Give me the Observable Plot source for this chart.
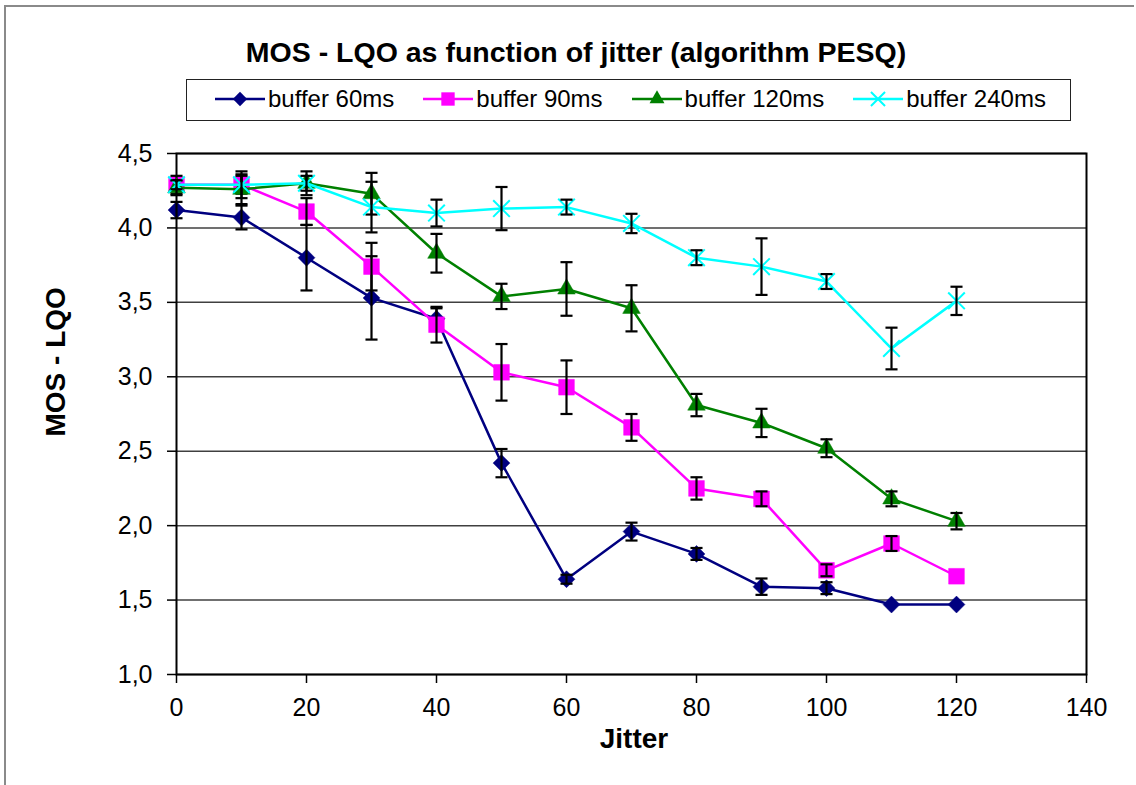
<!DOCTYPE html>
<html>
<head>
<meta charset="utf-8">
<script src="https://cdn.jsdelivr.net/npm/d3@7"></script>
<script src="https://cdn.jsdelivr.net/npm/@observablehq/plot@0.6"></script>
<style>
  html, body { margin: 0; padding: 0; background: #fff; }
  #page { position: relative; width: 1136px; height: 785px; overflow: hidden;
          font-family: "Liberation Sans", Arial, sans-serif; color: #000; }
  #border { position: absolute; left: 4px; top: 5px; width: 1128px; height: 820px;
            border-left: 2px solid #8a8a8a; border-top: 2px solid #8a8a8a; }
  #title { position: absolute; left: 0; top: 38px; width: 1152px; text-align: center;
           font-weight: bold; font-size: 28.5px; line-height: 28px; white-space: nowrap; }
  #legend { position: absolute; left: 186px; top: 79px; width: 885px; height: 42px;
            box-sizing: border-box; border: 1.5px solid #222; background: #fff;
            display: flex; align-items: center; gap: 29px; padding: 0 0 2px 28px; }
  .item { display: flex; align-items: center; font-size: 24px; line-height: 24px; white-space: nowrap; }
  .item svg { margin-right: 3px; display: block; }
  #chart { position: absolute; left: 0; top: 130px; }
</style>
</head>
<body>
<div id="page">
  <div id="border"></div>
  <div id="title">MOS - LQO as function of jitter (algorithm PESQ)</div>
  <div id="legend"></div>
  <div id="chart"></div>
</div>
<script>
// Jitter values on the x axis
const jitter = [0, 10, 20, 30, 40, 50, 60, 70, 80, 90, 100, 110, 120];

// Series definitions
const seriesNames = ["buffer 60ms", "buffer 90ms", "buffer 120ms", "buffer 240ms"];
const seriesColors = ["#000080", "#ff00ff", "#008000", "#00ffff"];
const seriesSymbols = ["diamond2", "square2", "triangle2", "times"];

// Mean MOS-LQO per jitter value and the half-width of each error bar
const mos60  = [4.12, 4.07, 3.80, 3.53, 3.39, 2.42, 1.64, 1.96, 1.81, 1.59, 1.58, 1.47, 1.47];
const err60  = [0.055, 0.08, 0.22, 0.28, 0.07, 0.095, 0.03, 0.06, 0.04, 0.055, 0.04, 0, 0];
const mos90  = [4.29, 4.29, 4.11, 3.74, 3.35, 3.03, 2.93, 2.66, 2.25, 2.18, 1.70, 1.88, 1.66];
const err90  = [0.06, 0.06, 0.09, 0.16, 0.12, 0.19, 0.18, 0.09, 0.075, 0.05, 0.04, 0.05, 0];
const mos120 = [4.27, 4.26, 4.30, 4.23, 3.83, 3.54, 3.59, 3.46, 2.81, 2.69, 2.52, 2.18, 2.03];
const err120 = [0.05, 0.10, 0.08, 0.14, 0.13, 0.085, 0.18, 0.155, 0.075, 0.095, 0.06, 0.05, 0.055];
const mos240 = [4.29, 4.29, 4.30, 4.14, 4.10, 4.13, 4.14, 4.03, 3.80, 3.74, 3.64, 3.19, 3.51];
const err240 = [0.03, 0.09, 0.05, 0.17, 0.09, 0.145, 0.05, 0.065, 0.05, 0.19, 0.05, 0.14, 0.095];

// Axis ticks and titles
const xTicks = [0, 20, 40, 60, 80, 100, 120, 140];
const yTicks = [1.0, 1.5, 2.0, 2.5, 3.0, 3.5, 4.0, 4.5];
const xTitle = ["Jitter"];
const yTitle = ["MOS - LQO"];

const seriesValues = [mos60, mos90, mos120, mos240];
const seriesErrors = [err60, err90, err120, err240];

const rowsBySeries = seriesNames.map((name, i) =>
  jitter.map((x, j) => ({
    series: name, x, y: seriesValues[i][j],
    lo: seriesValues[i][j] - seriesErrors[i][j],
    hi: seriesValues[i][j] + seriesErrors[i][j],
    err: seriesErrors[i][j]
  }))
);

// Horizontal cap drawn at both ends of an error bar
const capSymbol = {
  draw(context, size) {
    const w = Math.sqrt(size) * 0.68;
    context.moveTo(-w, 0);
    context.lineTo(w, 0);
  }
};

const markerR = [7.6, 10, 8.4, 7.6];

function seriesMarks(rows, i) {
  const color = seriesColors[i];
  const sym = seriesSymbols[i];
  const bars = rows.filter(d => d.err > 0);
  const dotOpts = sym === "times"
    ? {x: "x", y: "y", symbol: sym, r: markerR[i], stroke: color, strokeWidth: 2, fill: "none"}
    : {x: "x", y: "y", symbol: sym, r: markerR[i], fill: color, stroke: color, strokeWidth: 0.5};
  return [
    Plot.line(rows, {x: "x", y: "y", stroke: color, strokeWidth: 2.5}),
    Plot.dot(rows, dotOpts),
    Plot.ruleX(bars, {x: "x", y1: "lo", y2: "hi", stroke: "#000", strokeWidth: 2.2}),
    Plot.dot(bars, {x: "x", y: "lo", symbol: capSymbol, r: 5, stroke: "#000", strokeWidth: 2.2, fill: "none"}),
    Plot.dot(bars, {x: "x", y: "hi", symbol: capSymbol, r: 5, stroke: "#000", strokeWidth: 2.2, fill: "none"})
  ];
}

const chart = Plot.plot({
  width: 1136,
  height: 655,
  marginLeft: 176,
  marginRight: 50,
  marginTop: 23,
  marginBottom: 111,
  style: {fontFamily: "'Liberation Sans', Arial, sans-serif", fontSize: "25px", color: "#000", background: "transparent", overflow: "visible"},
  x: {domain: [0, 140]},
  y: {domain: [1, 4.5]},
  marks: [
    Plot.ruleY(yTicks, {stroke: "#404040", strokeWidth: 1.5}),
    Plot.axisX({ticks: xTicks, tickFormat: d => String(d), tickSize: 9, tickPadding: 15,
                fontSize: 25, stroke: "#000", strokeWidth: 1.5, label: null}),
    Plot.axisY({ticks: yTicks, tickFormat: d => d.toFixed(1).replace(".", ","), tickSize: 9, tickPadding: 15,
                fontSize: 25, stroke: "#000", strokeWidth: 1.5, label: null}),
    Plot.frame({stroke: "#000", strokeWidth: 2}),
    ...rowsBySeries.flatMap((rows, i) => seriesMarks(rows, i)),
    Plot.text(xTitle, {text: d => d, frameAnchor: "bottom", dx: 2.5, dy: 73.5,
                       fontSize: 28, fontWeight: "bold"}),
    Plot.text(yTitle, {text: d => d, frameAnchor: "left", rotate: -90, dx: -120, dy: 22.5,
                       fontSize: 28, fontWeight: "bold"})
  ]
});
document.getElementById("chart").appendChild(chart);

// Legend: a line with the series marker, then the series name
const legend = document.getElementById("legend");
const symbolTypes = {diamond2: d3.symbolDiamond2, square2: d3.symbolSquare2, triangle2: d3.symbolTriangle2, times: d3.symbolTimes};
seriesNames.forEach((name, i) => {
  const item = document.createElement("div");
  item.className = "item";
  const svg = d3.create("svg").attr("width", 50).attr("height", 22);
  svg.append("line").attr("x1", 0).attr("x2", 50).attr("y1", 11).attr("y2", 11)
     .attr("stroke", seriesColors[i]).attr("stroke-width", 2.5);
  const r = markerR[i] * 0.85;
  const path = d3.symbol(symbolTypes[seriesSymbols[i]], Math.PI * r * r)();
  const p = svg.append("path").attr("d", path).attr("transform", "translate(25,11)");
  if (seriesSymbols[i] === "times") p.attr("fill", "none").attr("stroke", seriesColors[i]).attr("stroke-width", 2);
  else p.attr("fill", seriesColors[i]);
  item.appendChild(svg.node());
  const label = document.createElement("span");
  label.textContent = name;
  item.appendChild(label);
  legend.appendChild(item);
});
</script>
</body>
</html>
